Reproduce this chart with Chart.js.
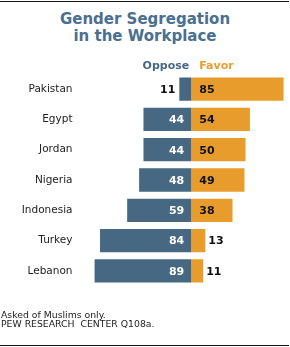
<!DOCTYPE html>
<html>
<head>
<meta charset="utf-8">
<script src="https://cdn.jsdelivr.net/npm/chart.js@4"></script>
<style>
  html, body { margin: 0; padding: 0; background: #fff; }
  #wrap { position: relative; width: 290px; height: 347px; overflow: hidden; font-family: "DejaVu Sans", Verdana, sans-serif; }
  #chart { position: absolute; left: 0; top: 0; }
  .rule { position: absolute; left: 0; width: 289px; height: 1px; background: #111; }
  #title { position: absolute; left: 0; width: 290px; top: 11px; text-align: center; color: #4a6f8f;
           font-weight: bold; font-size: 15px; line-height: 16.5px; }
  .note { position: absolute; left: 1px; font-size: 9.3px; color: #222; white-space: pre; }
</style>
</head>
<body>
<div id="wrap">
  <div class="rule" style="top:1px"></div>
  <div id="title">Gender Segregation<br>in the Workplace</div>
  <canvas id="chart" width="290" height="347"></canvas>
  <div class="note" style="top:309px">Asked of Muslims only.</div>
  <div class="note" style="top:318px">PEW RESEARCH  CENTER Q108a.</div>
  <div class="rule" style="top:345px"></div>
</div>
<script>
  const countries = ["Pakistan", "Egypt", "Jordan", "Nigeria", "Indonesia", "Turkey", "Lebanon"];
  const oppose = [11, 44, 44, 48, 59, 84, 89];
  const favor = [85, 54, 50, 49, 38, 13, 11];

  const blue = "#466882";
  const orange = "#e89c2c";

  // labels for values + the Oppose/Favor header
  const valueLabels = {
    id: "valueLabels",
    afterDatasetsDraw(chart) {
      const ctx = chart.ctx;
      const x = chart.scales.x;
      const zero = x.getPixelForValue(0);
      ctx.save();
      ctx.font = "bold 11px 'DejaVu Sans'";
      ctx.textBaseline = "middle";

      // header
      ctx.textAlign = "right";
      ctx.fillStyle = blue;
      ctx.fillText("Oppose", zero - 2, 66);
      ctx.textAlign = "left";
      ctx.fillStyle = orange;
      ctx.fillText("Favor", zero + 8, 66);

      chart.getDatasetMeta(0).data.forEach((bar, i) => {
        const y = bar.y + 1;
        if (bar.base - bar.x < 20) {
          ctx.textAlign = "right";
          ctx.fillStyle = "#111";
          ctx.fillText(oppose[i], bar.x - 4, y);
        } else {
          ctx.textAlign = "right";
          ctx.fillStyle = "#fff";
          ctx.fillText(oppose[i], zero - 7, y);
        }
      });
      chart.getDatasetMeta(1).data.forEach((bar, i) => {
        const y = bar.y + 1;
        ctx.textAlign = "left";
        if (bar.x - bar.base < 20) {
          ctx.fillStyle = "#111";
          ctx.fillText(favor[i], bar.x + 3, y);
        } else {
          ctx.fillStyle = "#111";
          ctx.fillText(favor[i], zero + 8, y);
        }
      });
      ctx.restore();
    }
  };

  new Chart(document.getElementById("chart"), {
    type: "bar",
    data: {
      labels: countries,
      datasets: [
        { label: "Oppose", data: oppose.map(v => -v), backgroundColor: blue },
        { label: "Favor", data: favor, backgroundColor: orange }
      ]
    },
    options: {
      indexAxis: "y",
      responsive: false,
      animation: false,
      layout: { padding: { top: 74, bottom: 61, left: 0, right: 1 } },
      datasets: { bar: { barPercentage: 0.77, categoryPercentage: 1, borderWidth: 0 } },
      scales: {
        x: { stacked: true, display: false, min: -90, max: 90 },
        y: {
          stacked: true,
          grid: { display: false, drawTicks: false },
          border: { display: false },
          ticks: { color: "#222", padding: 21, font: { family: "DejaVu Sans", size: 10.5 } },
          afterFit(scale) { scale.width = 93.5; }
        }
      },
      plugins: { legend: { display: false }, tooltip: { enabled: false } }
    },
    plugins: [valueLabels]
  });
</script>
</body>
</html>
